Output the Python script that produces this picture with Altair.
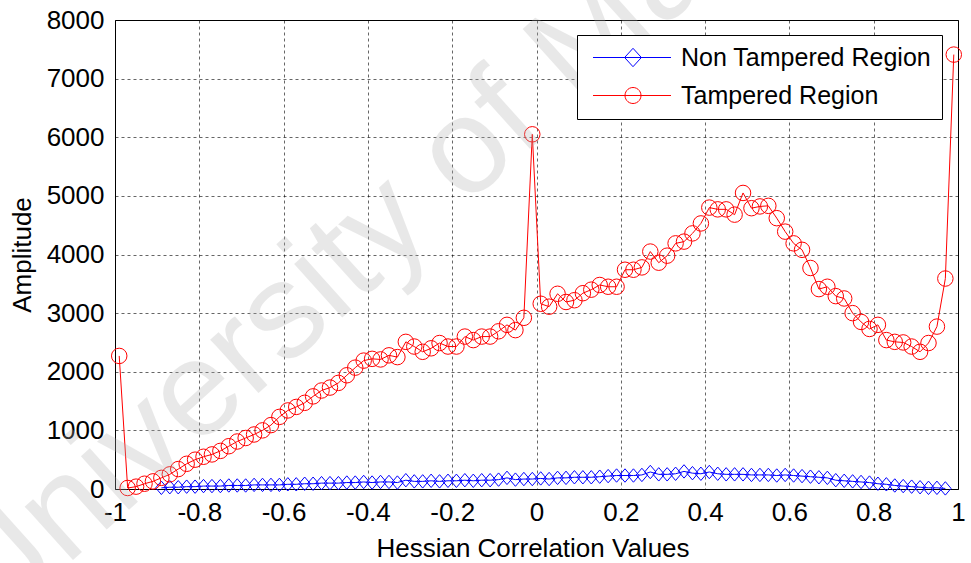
import math
import altair as alt
import pandas as pd

# Sample positions of the correlation histogram (bin centres)
x_tampered = [
    -0.99, -0.97, -0.95, -0.93, -0.91, -0.89, -0.87, -0.85, -0.83, -0.81,
    -0.79, -0.77, -0.75, -0.73, -0.71, -0.69, -0.67, -0.65, -0.63, -0.61,
    -0.59, -0.57, -0.55, -0.53, -0.51, -0.49, -0.47, -0.45, -0.43, -0.41,
    -0.39, -0.37, -0.35, -0.33, -0.31, -0.29, -0.27, -0.25, -0.23, -0.21,
    -0.19, -0.17, -0.15, -0.13, -0.11, -0.09, -0.07, -0.05, -0.03, -0.01,
    0.01, 0.03, 0.05, 0.07, 0.09, 0.11, 0.13, 0.15, 0.17, 0.19,
    0.21, 0.23, 0.25, 0.27, 0.29, 0.31, 0.33, 0.35, 0.37, 0.39,
    0.41, 0.43, 0.45, 0.47, 0.49, 0.51, 0.53, 0.55, 0.57, 0.59,
    0.61, 0.63, 0.65, 0.67, 0.69, 0.71, 0.73, 0.75, 0.77, 0.79,
    0.81, 0.83, 0.85, 0.87, 0.89, 0.91, 0.93, 0.95, 0.97, 0.99,
]
amp_tampered = [
    2270, 17, 40, 90, 130, 190, 250, 340, 430, 500,
    550, 590, 650, 730, 810, 870, 930, 1000, 1090, 1230,
    1340, 1400, 1470, 1580, 1680, 1730, 1810, 1940, 2070, 2190,
    2220, 2210, 2280, 2250, 2510, 2430, 2340, 2400, 2490, 2430,
    2430, 2600, 2540, 2600, 2600, 2690, 2800, 2710, 2920, 6050,
    3160, 3110, 3330, 3190, 3220, 3340, 3400, 3480, 3450, 3450,
    3740, 3740, 3780, 4050, 3860, 3980, 4190, 4220, 4360, 4530,
    4800, 4770, 4770, 4680, 5050, 4790, 4820, 4830, 4620, 4390,
    4190, 4080, 3770, 3410, 3450, 3290, 3250, 3000, 2850, 2730,
    2800, 2540, 2510, 2500, 2430, 2340, 2490, 2770, 3590, 7410,
]

# The non-tampered curve covers -0.89 .. 0.97
x_non = x_tampered[5:99]
amp_non = [
    20, 30, 30, 40, 40, 50, 50, 50, 60, 60,
    60, 70, 70, 70, 70, 80, 80, 90, 90, 100,
    100, 100, 110, 110, 120, 110, 120, 120, 110, 150,
    130, 130, 140, 130, 140, 140, 150, 140, 150, 150,
    160, 190, 160, 170, 170, 180, 170, 190, 190, 200,
    200, 200, 210, 220, 230, 230, 230, 240, 290, 250,
    250, 260, 300, 270, 260, 290, 260, 250, 250, 250,
    240, 240, 240, 230, 240, 230, 220, 210, 200, 190,
    150, 140, 130, 120, 110, 90, 80, 60, 50, 40,
    30, 20, 20, 10,
]

series_names = ["Non Tampered Region", "Tampered Region"]
series_colors = ["#0000ff", "#ff0000"]
x_ticks = [-1, -0.8, -0.6, -0.4, -0.2, 0, 0.2, 0.4, 0.6, 0.8, 1]
y_ticks = [0, 1000, 2000, 3000, 4000, 5000, 6000, 7000, 8000]

W, H = 843, 469
FONT = "Liberation Sans"

# Slightly taller-than-wide diamond marker
DIAMOND = "M-0.85,0L0,-1L0.85,0L0,1Z"


# Legend glyphs: a line segment with the marker in its middle (unit = half symbol size)
L0, L1, C = -0.8125, 8.9375, 4.1875


def legend_diamond(c):
    return f"M{L0},0L{L1},0M{c-1.05},0L{c},-1.15L{c+1.05},0L{c},1.15Z"


def legend_circle(c, n=28):
    pts = []
    for i in range(n):
        a = 2 * math.pi * i / n
        pts.append(f"{c + math.cos(a):.4f},{math.sin(a):.4f}")
    return f"M{L0},0L{L1},0M" + "L".join(pts) + "Z"


legend_shapes = [legend_diamond(C), legend_circle(C)]

df_t = pd.DataFrame({"x": x_tampered, "amp": amp_tampered})
df_n = pd.DataFrame({"x": x_non, "amp": amp_non})
df_leg = pd.DataFrame({"series": series_names, "x": [0, 0], "amp": [0, 0]})

x_scale = alt.Scale(domain=[-1, 1], nice=False, zero=False)
y_scale = alt.Scale(domain=[0, 8000], nice=False, zero=False)

x_axis = alt.Axis(
    values=x_ticks,
    labelExpr="toString(round(datum.value * 10) / 10)",
    labelPadding=10,
    labelFlush=False,
    labelOverlap=False,
    titleX=W / 2 - 4,
    titleY=59,
    titleBaseline="middle",
    titleAlign="center",
)
y_axis = alt.Axis(
    values=y_ticks,
    format="d",
    labelPadding=11,
    labelFlush=False,
    labelOverlap=False,
    titleAngle=270,
    titleX=-93,
    titleY=H / 2,
    titleBaseline="middle",
    titleAlign="center",
)

X = alt.X("x:Q", scale=x_scale, axis=x_axis, title="Hessian Correlation Values")
Y = alt.Y("amp:Q", scale=y_scale, axis=y_axis, title="Amplitude")

non_line = alt.Chart(df_n).mark_line(color=series_colors[0], strokeWidth=1).encode(x=X, y=Y)
non_pts = alt.Chart(df_n).mark_point(
    shape=DIAMOND, filled=False, color=series_colors[0], size=180, strokeWidth=1, opacity=1
).encode(x=X, y=Y)

t_line = alt.Chart(df_t).mark_line(color=series_colors[1], strokeWidth=1).encode(x=X, y=Y)
t_pts = alt.Chart(df_t).mark_point(
    shape="circle", filled=False, color=series_colors[1], size=240, strokeWidth=1, opacity=1
).encode(x=X, y=Y)

legend_layer = alt.Chart(df_leg).mark_point(filled=False, opacity=0).encode(
    x=X,
    y=Y,
    color=alt.Color(
        "series:N",
        scale=alt.Scale(domain=series_names, range=series_colors),
        legend=alt.Legend(
            title=None,
            orient="none",
            legendX=462,
            legendY=15,
            fillColor="white",
            strokeColor="black",
            padding=10,
            rowPadding=12,
            labelFont=FONT,
            labelFontSize=25,
            labelColor="black",
            labelLimit=400,
            labelOffset=69,
            symbolSize=256,
            symbolStrokeWidth=1,
            symbolOpacity=1,
        ),
    ),
    shape=alt.Shape(
        "series:N",
        scale=alt.Scale(domain=series_names, range=legend_shapes),
        legend=alt.Legend(title=None),
    ),
)

watermark = alt.Chart(df_leg.head(1)).mark_text(
    text="University of Malaya",
    font=FONT,
    fontSize=136,
    angle=318,
    align="left",
    baseline="alphabetic",
    color="#b0b0b0",
    opacity=0.28,
).encode(x=alt.value(-122), y=alt.value(612))

chart = (
    alt.layer(non_line, non_pts, t_line, t_pts, legend_layer, watermark)
    .properties(
        width=W,
        height=H,
        autosize=alt.AutoSizeParams(type="none"),
        padding={"left": 115, "top": 20, "right": 13, "bottom": 74},
        background="white",
    )
    .configure_view(stroke="black", strokeWidth=1)
    .configure_axis(
        grid=True,
        gridColor="#000000",
        gridDash=[3, 3],
        gridOpacity=0.6,
        gridWidth=1,
        domain=False,
        ticks=False,
        labelFont=FONT,
        labelFontSize=26,
        labelColor="black",
        titleFont=FONT,
        titleFontSize=26,
        titleFontWeight="normal",
        titleColor="black",
    )
)

chart.save("out.html", embed_options={"renderer": "svg", "actions": False})
